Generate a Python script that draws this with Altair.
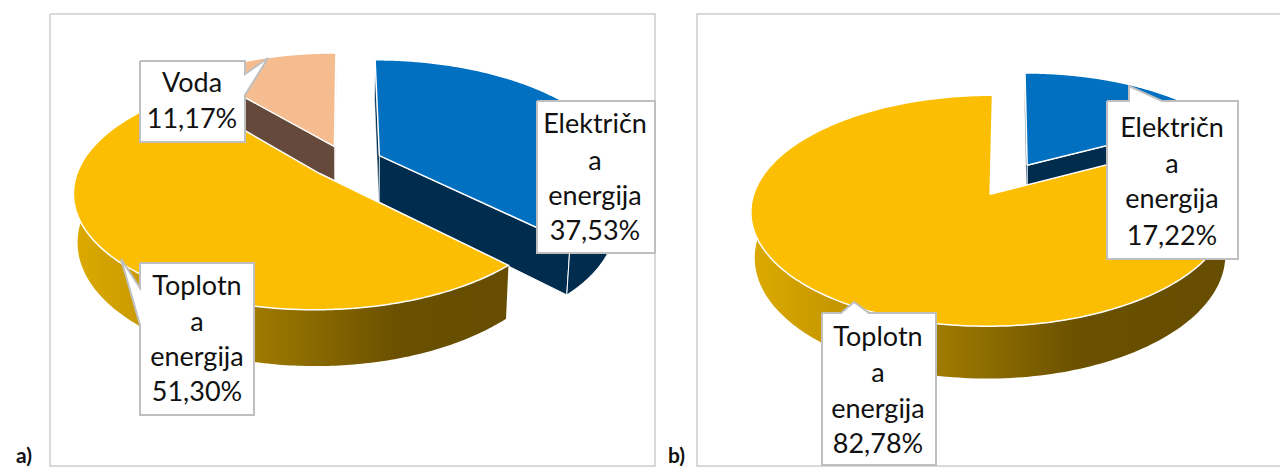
import math
import altair as alt
import pandas as pd

# --- values ---
shares_a = [37.53, 51.30, 11.17]
shares_b = [17.22, 82.78]
series_a = ["Električna energija", "Toplotna energija", "Voda"]
series_b = ["Električna energija", "Toplotna energija"]
wrapped = {"Električna energija": ["Električn", "a", "energija"],
           "Toplotna energija": ["Toplotn", "a", "energija"],
           "Voda": ["Voda"]}

# --- style / layout ---
TOP = {"Električna energija": "#0170c0", "Toplotna energija": "#fbbe02", "Voda": "#f5bd8f"}
WALL = {"Električna energija": "#002c4e", "Toplotna energija": "#6a5000", "Voda": "#65493a"}
FONT = "Lato"
BOTTOM = 466
sx = alt.Scale(domain=[8, 1280], nice=False, zero=False)
sy = alt.Scale(domain=[468, 8], nice=False, zero=False)
layers = []


def poly(points, closed=True, **mark):
    pts = list(points) + ([points[0]] if closed else [])
    df = pd.DataFrame({"x": [p[0] for p in pts], "y": [p[1] for p in pts], "o": range(len(pts))})
    layers.append(alt.Chart(df).mark_line(strokeJoin="miter", **mark).encode(
        x=alt.X("x:Q", scale=sx, axis=None), y=alt.Y("y:Q", scale=sy, axis=None), order="o:Q"))


def gold_gradient(m1, m2):
    return alt.Gradient(gradient="linear", x1=0, x2=1, y1=0, y2=0, stops=[
        alt.GradientStop(offset=0, color="#dcaa00"),
        alt.GradientStop(offset=m1 / 2, color="#c39500"),
        alt.GradientStop(offset=m1, color="#a07b00"),
        alt.GradientStop(offset=m2, color="#6a5000"),
        alt.GradientStop(offset=1, color="#664d00")])


def pie(shares, names, cx, cy, R, Rs, k, e, D, grad):
    def proj(u, v, low=False):
        w = 1 - k * v
        x = R * u / w
        y = Rs * v / w
        if low:
            x *= 0.985
            y += D / w
        return (cx + x, cy + y)

    slices = []
    start = 0.0
    for s, n in zip(shares, names):
        a0, a1 = start, start + s * 3.6
        start = a1
        mid = math.radians((a0 + a1) / 2)
        ox, oy = e * math.sin(mid), -e * math.cos(mid)
        angs = [a0 + (a1 - a0) * i / 240 for i in range(241)]
        rim = [(ox + math.sin(math.radians(a)), oy - math.cos(math.radians(a))) for a in angs]
        slices.append(dict(name=n, a0=a0, a1=a1, apex=(ox, oy), rim=rim))

    def radial(sl, r):
        ap = sl["apex"]
        return [proj(*ap), proj(*r), proj(*r, low=True), proj(*ap, low=True)]

    def outer(sl):
        front = [r for r in sl["rim"] if r[1] > -0.25]
        up = [proj(*r) for r in front]
        lo = [proj(*r, low=True) for r in front]
        return up + lo[::-1]

    def top(sl):
        return [proj(*sl["apex"])] + [proj(*r) for r in sl["rim"]]

    order = sorted(slices, key=lambda s: s["name"] == "Toplotna energija")
    for sl in order:
        n = sl["name"]
        wall = outer(sl)
        if n == "Toplotna energija":
            poly(wall, fill=grad, stroke=None, strokeWidth=0)
        else:
            poly(radial(sl, sl["rim"][-1]), fill=WALL[n], stroke="white", strokeWidth=1)
            poly(radial(sl, sl["rim"][0]), fill=WALL[n], stroke="white", strokeWidth=0.5)
            if len(wall) > 3:
                poly(wall, fill=WALL[n], stroke="white", strokeWidth=1)
        poly(top(sl), fill=TOP[n], stroke="white", strokeWidth=1.5)


def frame(pts, closed=True):
    poly(pts, closed=closed, color="#d9d9d9", strokeWidth=2)


def callout(pts):
    poly(pts, fill="white", stroke="#bfbfbf", strokeWidth=2)


def label(name, share, xc, ys):
    lines = wrapped[name] + [f"{share:.2f}%".replace(".", ",")]
    df = pd.DataFrame({"x": [xc] * len(lines), "y": ys, "t": lines})
    layers.append(alt.Chart(df).mark_text(font=FONT, fontSize=27, color="#111111", baseline="middle").encode(
        x=alt.X("x:Q", scale=sx, axis=None), y=alt.Y("y:Q", scale=sy, axis=None), text="t:N"))


frame([(50, 14), (655, 14), (655, BOTTOM), (50, BOTTOM)])
frame([(1290, 14), (697, 14), (697, BOTTOM), (1290, BOTTOM)], closed=False)

pie(shares_a, series_a, 346.5, 162, 239, 112, 0.15, 0.15, 47, gold_gradient(0.41, 0.75))
pie(shares_b, series_b, 1009, 179.5, 232, 109, 0.14, 0.155, 44, gold_gradient(0.39, 0.69))

callout([(140, 61), (245, 61), (245, 74), (268, 58), (245, 95), (245, 142), (140, 142)])
callout([(537, 101), (655, 101), (655, 253), (537, 253)])
callout([(140, 263), (254, 263), (254, 415), (140, 415), (140, 325), (121, 259), (140, 288)])
callout([(1107, 101), (1129, 101), (1129, 86), (1162, 101), (1238, 101), (1238, 259), (1107, 259)])
callout([(822, 313), (841, 313), (854, 302), (869, 313), (936, 313), (936, 465), (822, 465)])

label("Voda", shares_a[2], 192, [84, 120])
label("Električna energija", shares_a[0], 595, [125, 162, 197, 232])
label("Toplotna energija", shares_a[1], 197, [287, 323, 358, 393])
label("Električna energija", shares_b[0], 1172, [129, 165, 200, 237])
label("Toplotna energija", shares_b[1], 878, [338, 374, 410, 445])

tags = pd.DataFrame({"x": [16, 668], "y": [462.5, 462.5], "t": ["a)", "b)"]})
layers.append(alt.Chart(tags).mark_text(font=FONT, fontSize=21, fontWeight="bold", color="#111111",
                                        align="left", baseline="alphabetic").encode(
    x=alt.X("x:Q", scale=sx, axis=None), y=alt.Y("y:Q", scale=sy, axis=None), text="t:N"))

chart = alt.layer(*layers).properties(
    width=1272, height=460, padding=0,
    autosize=alt.AutoSizeParams(type="none"),
).configure_view(stroke=None)
chart.save("out.html", embed_options={"renderer": "svg", "actions": False})
